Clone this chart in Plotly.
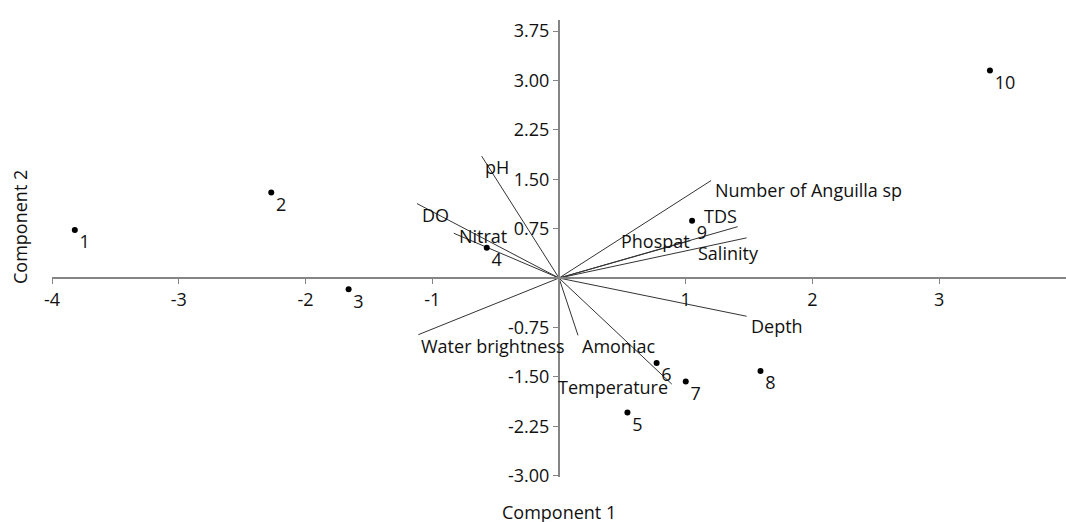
import plotly.graph_objects as go

# ---- Sample scores (Component 1, Component 2) ----
sample_labels = ["1", "2", "3", "4", "5", "6", "7", "8", "9", "10"]
pc1_scores = [-3.82, -2.27, -1.66, -0.57, 0.54, 0.77, 1.00, 1.59, 1.05, 3.40]
pc2_scores = [0.73, 1.30, -0.17, 0.46, -2.04, -1.29, -1.57, -1.41, 0.87, 3.15]

# ---- Variable loadings (biplot vectors) ----
variables = ["pH", "DO", "Nitrat", "Number of Anguilla sp", "TDS", "Phospat",
             "Salinity", "Depth", "Water brightness", "Amoniac", "Temperature"]
load_pc1 = [-0.61, -1.12, -0.83, 1.20, 1.41, 1.04, 1.48, 1.48, -1.11, 0.15, 0.89]
load_pc2 = [1.85, 1.13, 0.68, 1.48, 0.78, 0.57, 0.61, -0.58, -0.86, -0.87, -1.61]

# label placement relative to the vector tip (style only): xanchor, xshift, yshift
label_style = [
    ("left", 1, -11),     # pH
    ("left", 3, -11),     # DO
    ("left", 3, -3),      # Nitrat
    ("left", 2, -9),      # Number of Anguilla sp
    ("right", 1, 11),     # TDS
    ("right", 1, 0),      # Phospat
    ("center", -18, -15), # Salinity
    ("left", 2, -10),     # Depth
    ("left", 1, -11),     # Water brightness
    ("left", 2, -11),     # Amoniac
    ("right", -2, -3),    # Temperature
]

# ---- Axis ticks ----
x_ticks = [-4, -3, -2, -1, 1, 2, 3, 4]
y_ticks = [-3.0, -2.25, -1.5, -0.75, 0.75, 1.5, 2.25, 3.0, 3.75]

x_range = [-4, 4]
y_range = [-3.02, 3.917]

FONT = "Open Sans"
FS = 18
TXT = "#111111"
AXC = "#858585"

# build vector segments from origin
vx, vy = [], []
for a, b in zip(load_pc1, load_pc2):
    vx += [0, a, None]
    vy += [0, b, None]

fig = go.Figure()

fig.add_trace(go.Scatter(
    x=vx, y=vy, mode="lines",
    line=dict(color="#333333", width=1),
    hoverinfo="skip", showlegend=False,
))

fig.add_trace(go.Scatter(
    x=pc1_scores, y=pc2_scores, mode="markers+text", text=sample_labels,
    textposition="bottom right",
    marker=dict(color="black", size=6),
    textfont=dict(family=FONT, size=FS, color=TXT),
    showlegend=False,
))

annotations = []
for name, a, b, (xa, xs, ys) in zip(variables, load_pc1, load_pc2, label_style):
    annotations.append(dict(
        text=name, x=a, y=b, xref="x", yref="y", showarrow=False,
        xanchor=xa, yanchor="middle", xshift=xs, yshift=ys,
        font=dict(family=FONT, size=FS, color=TXT),
    ))

annotations += [
    dict(text="Component 1", xref="paper", yref="paper", x=0.5, y=-0.077,
         xanchor="center", yanchor="middle", showarrow=False,
         font=dict(family=FONT, size=FS, color=TXT)),
    dict(text="Component 2", xref="paper", yref="paper", x=-0.0316, y=0.547,
         xanchor="center", yanchor="middle", showarrow=False, textangle=-90,
         font=dict(family=FONT, size=FS, color=TXT)),
]

x_pos = (0 - y_range[0]) / (y_range[1] - y_range[0])
y_pos = (0 - x_range[0]) / (x_range[1] - x_range[0])

fig.update_layout(
    width=1066, height=522,
    margin=dict(l=52, r=0, t=20, b=45),
    paper_bgcolor="white", plot_bgcolor="white",
    font=dict(family=FONT, size=FS, color=TXT),
    xaxis=dict(
        range=x_range, tickvals=x_ticks, ticktext=[f"{v:d}" for v in x_ticks],
        showline=True, linecolor=AXC, linewidth=2,
        ticks="outside", ticklen=5, tickwidth=1, tickcolor=AXC,
        showgrid=False, zeroline=False, anchor="free", position=x_pos,
        tickfont=dict(family=FONT, size=FS, color=TXT), automargin=False,
    ),
    yaxis=dict(
        range=y_range, tickvals=y_ticks, ticktext=[f"{v:.2f}" for v in y_ticks],
        showline=True, linecolor=AXC, linewidth=2,
        ticks="outside", ticklen=5, tickwidth=1, tickcolor=AXC,
        showgrid=False, zeroline=False, anchor="free", position=y_pos,
        tickfont=dict(family=FONT, size=FS, color=TXT), automargin=False,
    ),
    annotations=annotations,
)

fig.write_html(
    "out.html",
    config={"displayModeBar": False},
    post_script="document.body.style.margin='0';document.body.style.overflow='hidden';",
)
